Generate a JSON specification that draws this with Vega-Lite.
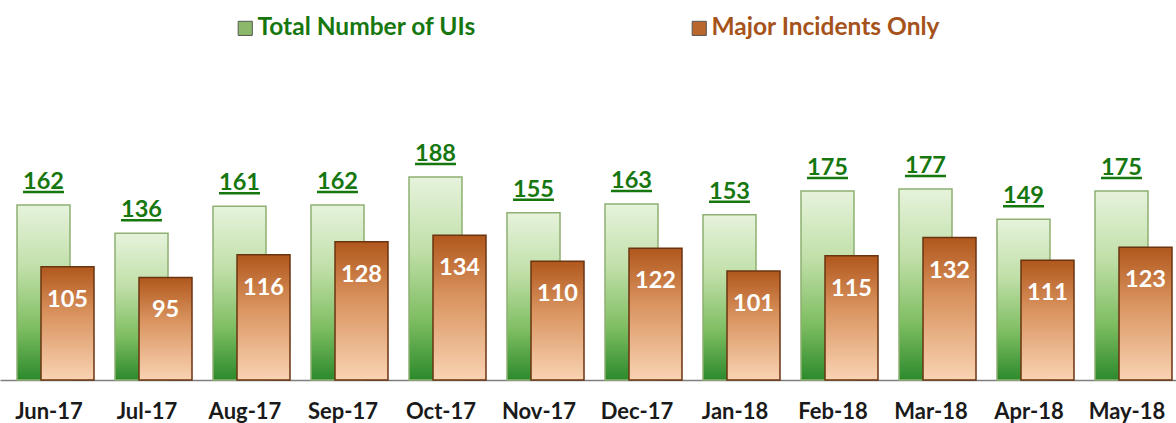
{
  "$schema": "https://vega.github.io/schema/vega-lite/v6.json",
  "width": 1176,
  "height": 380,
  "padding": {"left": 0, "top": 0, "right": 0, "bottom": 43},
  "autosize": "none",
  "background": "white",
  "data": {"values": [
    {"month": "Jun-17", "series": "Total Number of UIs", "value": 162},
    {"month": "Jul-17", "series": "Total Number of UIs", "value": 136},
    {"month": "Aug-17", "series": "Total Number of UIs", "value": 161},
    {"month": "Sep-17", "series": "Total Number of UIs", "value": 162},
    {"month": "Oct-17", "series": "Total Number of UIs", "value": 188},
    {"month": "Nov-17", "series": "Total Number of UIs", "value": 155},
    {"month": "Dec-17", "series": "Total Number of UIs", "value": 163},
    {"month": "Jan-18", "series": "Total Number of UIs", "value": 153},
    {"month": "Feb-18", "series": "Total Number of UIs", "value": 175},
    {"month": "Mar-18", "series": "Total Number of UIs", "value": 177},
    {"month": "Apr-18", "series": "Total Number of UIs", "value": 149},
    {"month": "May-18", "series": "Total Number of UIs", "value": 175},
    {"month": "Jun-17", "series": "Major Incidents Only", "value": 105},
    {"month": "Jul-17", "series": "Major Incidents Only", "value": 95},
    {"month": "Aug-17", "series": "Major Incidents Only", "value": 116},
    {"month": "Sep-17", "series": "Major Incidents Only", "value": 128},
    {"month": "Oct-17", "series": "Major Incidents Only", "value": 134},
    {"month": "Nov-17", "series": "Major Incidents Only", "value": 110},
    {"month": "Dec-17", "series": "Major Incidents Only", "value": 122},
    {"month": "Jan-18", "series": "Major Incidents Only", "value": 101},
    {"month": "Feb-18", "series": "Major Incidents Only", "value": 115},
    {"month": "Mar-18", "series": "Major Incidents Only", "value": 132},
    {"month": "Apr-18", "series": "Major Incidents Only", "value": 111},
    {"month": "May-18", "series": "Major Incidents Only", "value": 123}
  ]},
  "encoding": {
    "x": {
      "field": "month", "type": "nominal", "title": null,
      "scale": {"domain": ["Jun-17","Jul-17","Aug-17","Sep-17","Oct-17","Nov-17","Dec-17","Jan-18","Feb-18","Mar-18","Apr-18","May-18"], "paddingInner": 0, "paddingOuter": 0},
      "axis": {"labelAngle": 0, "ticks": false, "labelFont": "Lato", "labelFontSize": 22, "labelFontWeight": "bold", "labelColor": "#1a1a1a", "labelPadding": 21, "labelDx": 5, "domainColor": "#7f7f7f", "domainWidth": 1.5}
    },
    "y": {"field": "value", "type": "quantitative", "scale": {"domain": [0, 352]}, "axis": null}
  },
  "layer": [
    {
      "transform": [{"filter": "datum.series === 'Total Number of UIs'"}],
      "mark": {"type": "bar", "width": 53, "xOffset": -5.5, "stroke": "#8fb072", "strokeWidth": 1.5,
        "fill": {"gradient": "linear", "x1": 0, "y1": 0, "x2": 0, "y2": 1, "stops": [
          {"offset": 0, "color": "#e6f3dc"},
          {"offset": 0.35, "color": "#c2e0aa"},
          {"offset": 0.7, "color": "#7fbe62"},
          {"offset": 1, "color": "#2c8a2c"}]}}
    },
    {
      "transform": [{"filter": "datum.series === 'Total Number of UIs'"}],
      "mark": {"type": "text", "xOffset": -5.5, "dy": -16, "baseline": "alphabetic", "font": "Lato", "fontSize": 23.5, "fontWeight": "bold", "color": "#17770f"},
      "encoding": {"text": {"field": "value", "type": "quantitative"}}
    },
    {
      "transform": [{"filter": "datum.series === 'Total Number of UIs'"}],
      "mark": {"type": "tick", "orient": "horizontal", "size": 41, "thickness": 2.5, "xOffset": -5.5, "yOffset": -13, "color": "#17770f", "opacity": 1}
    },
    {
      "transform": [{"filter": "datum.series === 'Major Incidents Only'"}],
      "mark": {"type": "bar", "width": 53, "xOffset": 18.5, "stroke": "#6b3410", "strokeWidth": 1.5,
        "fill": {"gradient": "linear", "x1": 0, "y1": 0, "x2": 0, "y2": 1, "stops": [
          {"offset": 0, "color": "#b0571c"},
          {"offset": 0.4, "color": "#d8915c"},
          {"offset": 1, "color": "#f9d3b3"}]}}
    },
    {
      "transform": [{"filter": "datum.series === 'Major Incidents Only'"}],
      "mark": {"type": "text", "xOffset": 18.5, "dy": 40, "baseline": "alphabetic", "font": "Lato", "fontSize": 23.5, "fontWeight": "bold", "color": "white"},
      "encoding": {"text": {"field": "value", "type": "quantitative"}}
    },
    {
      "mark": {"type": "point", "shape": "square", "filled": true, "opacity": 0},
      "encoding": {
        "color": {
          "field": "series", "type": "nominal",
          "scale": {"domain": ["Total Number of UIs", "Major Incidents Only"], "range": ["#8cb86a", "#b9672c"]},
          "legend": {
            "orient": "none", "legendX": 233, "legendY": 16, "direction": "horizontal", "title": null,
            "symbolType": "square", "symbolSize": 200, "symbolOpacity": 1, "symbolStrokeColor": "#555555", "symbolStrokeWidth": 1,
            "labelFont": "Lato", "labelFontSize": 24.5, "labelFontWeight": "bold", "labelLimit": 400, "labelOffset": 0,
            "columnPadding": 210,
            "encode": {"labels": {"update": {"fill": {"signal": "datum.label === 'Total Number of UIs' ? '#17770f' : '#a5531b'"}}}}
          }
        }
      }
    }
  ],
  "config": {"view": {"stroke": null}}
}
